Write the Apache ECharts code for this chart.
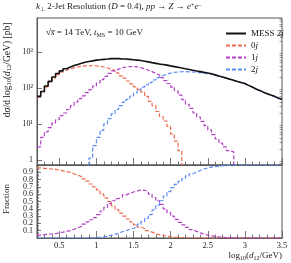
<!DOCTYPE html>
<html><head><meta charset="utf-8">
<script src="https://cdn.jsdelivr.net/npm/echarts@6/dist/echarts.min.js"></script>
<style>html,body{margin:0;padding:0;background:#fff}#c{width:291px;height:263px}</style>
</head><body><div id="c"></div>
<script>
// bin edges: 0.20 .. 3.50 in steps of 0.05 (66 bins)
const binStart = 0.2, binWidth = 0.05, nBins = 66;
const edges = Array.from({length: nBins + 1}, (_, i) => +(binStart + binWidth * i).toFixed(2));

// Top panel: dσ/d log10(d12/GeV) [pb]
const mess2j = [58,79,112,151,200,251,295,339,380,417,
  447,479,513,537,562,589,603,617,631,646,
  646,646,631,631,617,603,589,575,550,525,
  501,479,457,447,427,407,389,372,355,339,
  324,309,295,282,269,257,245,229,214,200,
  186,174,162,151,141,132,117,105,93,85,
  76,69,63,58,52,48];
const jet0 = [55,76,107,145,186,234,275,309,339,363,
  380,398,407,407,417,407,398,380,355,330,
  300,262,214,186,155,129,107,91,76,58,
  42,32,22,16,12,8.5,5.2,3.3,1.8,0.4,
  null,null,null,null,null,null,null,null,null,null,
  null,null,null,null,null,null,null,null,null,null,
  null,null,null,null,null,null];
const jet1 = [2.3,4.2,6.0,7.9,10.5,13,17,20,25,32,
  40,50,60,74,89,112,138,170,209,251,
  295,331,363,380,389,389,380,363,339,309,
  282,251,224,191,158,132,105,83,63,47,
  35,27,20,15.5,11.7,8.9,6.8,5.0,3.8,2.9,
  2.3,1.8,1.66,0.4,null,null,null,null,null,null,
  null,null,null,null,null,null];
const jet2 = [null,null,null,null,null,null,null,null,null,null,
  null,null,null,0.4,1.12,2.5,4.2,6.6,10,14,
  19,25,32,40,48,59,72,87,105,120,
  140,165,192,218,240,256,268,276,280,281,
  279,275,269,262,255,248,239,224,210,197,
  184,172,160,149,139,130,116,104,92,84,
  75,68,62,57,51,47];

// Bottom panel: fractions
const frac0 = [.96,.955,.95,.945,.94,.93,.92,.91,.90,.88,
  .86,.84,.81,.78,.74,.70,.66,.60,.55,.50,
  .44,.39,.34,.30,.26,.22,.18,.15,.13,.10,
  .08,.06,.045,.035,.025,.018,.012,.008,.005,.003,
  0,0,0,0,0,0,0,0,0,0,
  0,0,0,0,0,0,0,0,0,0,
  0,0,0,0,0,0];
const frac1 = [.04,.045,.05,.055,.06,.07,.08,.09,.10,.12,
  .14,.16,.19,.22,.25,.28,.32,.37,.42,.47,
  .51,.54,.56,.59,.61,.63,.645,.655,.655,.635,
  .60,.555,.51,.46,.40,.35,.30,.255,.215,.18,
  .145,.115,.09,.07,.055,.04,.03,.022,.015,.01,
  .006,.004,.002,0,0,0,0,0,0,0,
  0,0,0,0,0,0];
const frac2 = [0,0,0,0,0,0,0,0,0,0,
  0,0,0,0,.002,.005,.01,.015,.025,.035,
  .05,.065,.085,.10,.12,.13,.155,.19,.225,.27,
  .32,.385,.45,.51,.575,.635,.69,.735,.78,.815,
  .85,.88,.905,.925,.945,.96,.97,.978,.985,.99,
  .994,.996,.998,1,1,1,1,1,1,1,
  1,1,1,1,1,1];

const xMajor = [0.5,1,1.5,2,2.5,3,3.5];
const yMajor = [1,10,100,1000];
const yLabels = {1:'1',10:'10¹',100:'10²',1000:'10³'};

const xMinor = [];
for (let i = 3; i < 35; i++) { if (i % 5 !== 0) xMinor.push(+(i / 10).toFixed(1)); }
const yMinor = [0.8, 0.9];
[1,10,100,1000].forEach(d => { for (let k = 2; k <= 9; k++) if (d * k < 8700) yMinor.push(d * k); });

const names = ['MESS 2j','0j','1j','2j'];
const colors = ['#111111','#ef6a4c','#b341c6','#5b8cf7'];
const FONT = 'Liberation Serif';
const AX = '#555';

function steps(vals) {
  const d = vals.map((v, i) => [edges[i], v]);
  d.push([edges[vals.length], vals[vals.length - 1]]);
  return d;
}

const chart = echarts.init(document.getElementById('c'), null, {renderer: 'canvas'});

function xAx(gi, ticks, len, labels, line) {
  return {type:'value', gridIndex:gi, min:0.2, max:3.5, position:'bottom',
    axisLine:{show:line, lineStyle:{color:AX, width:1.2}},
    axisTick:{show:true, inside:true, length:len, customValues:ticks, lineStyle:{color:AX, width:0.8}},
    axisLabel:{show:labels, customValues:xMajor, margin:3, fontFamily:FONT, fontSize:8.5, color:'#222',
      formatter: v => String(v)},
    splitLine:{show:false}};
}

const option = {
  animation:false,
  grid:[
    {left:37, right:9, top:18, height:147, show:true, borderColor:AX, borderWidth:1},
    {left:37, right:9, top:165, height:73, show:true, borderColor:AX, borderWidth:1}
  ],
  xAxis:[
    xAx(0, xMajor, 7, false, true),
    xAx(0, xMinor, 3.5, false, false),
    xAx(1, xMajor, 7, true, true),
    xAx(1, xMinor, 3.5, false, false)
  ],
  yAxis:[
    {type:'log', gridIndex:0, min:0.72, max:8700,
      axisLine:{show:true, lineStyle:{color:AX, width:1}},
      axisTick:{show:true, inside:true, length:5, customValues:yMajor, lineStyle:{color:AX, width:0.8}},
      axisLabel:{show:true, customValues:yMajor, margin:4, fontFamily:FONT, fontSize:8, color:'#222',
        formatter: v => yLabels[Math.round(v)] || ''},
      splitLine:{show:false}},
    {type:'log', gridIndex:0, min:0.72, max:8700,
      axisLine:{show:false},
      axisTick:{show:true, inside:true, length:2.5, customValues:yMinor, lineStyle:{color:AX, width:0.6}},
      axisLabel:{show:false}, splitLine:{show:false}},
    {type:'value', gridIndex:1, min:0, max:1, interval:0.1,
      axisLine:{show:true, lineStyle:{color:AX, width:1}},
      axisTick:{show:true, inside:true, length:4, lineStyle:{color:AX, width:0.8}},
      minorTick:{show:true, splitNumber:5, length:2, lineStyle:{color:AX, width:0.6}},
      axisLabel:{show:true, showMaxLabel:false, margin:4, fontFamily:FONT, fontSize:8, color:'#222',
        formatter: v => (v >= 0.999 ? '' : String(+v.toFixed(1)))},
      splitLine:{show:false}}
  ],
  legend:{left:220, top:24, orient:'vertical', itemWidth:20, itemHeight:8, itemGap:3,
    data:names,
    itemStyle:{opacity:0},
    formatter: n => n.replace(/j$/, '{i|j}'),
    textStyle:{fontFamily:FONT, fontSize:9, color:'#111', lineHeight:9,
      rich:{i:{fontStyle:'italic', fontFamily:FONT, fontSize:9, color:'#111'}}}},
  series:[
    {name:names[1], type:'line', xAxisIndex:0, yAxisIndex:0, step:'end', symbol:'none',
      lineStyle:{color:colors[1], width:1.2, type:[4,2]}, itemStyle:{color:colors[1]}, data:steps(jet0)},
    {name:names[2], type:'line', xAxisIndex:0, yAxisIndex:0, step:'end', symbol:'none',
      lineStyle:{color:colors[2], width:1.2, type:[4,2]}, itemStyle:{color:colors[2]}, data:steps(jet1)},
    {name:names[3], type:'line', xAxisIndex:0, yAxisIndex:0, step:'end', symbol:'none',
      lineStyle:{color:colors[3], width:1.2, type:[4,2]}, itemStyle:{color:colors[3]}, data:steps(jet2)},
    {name:names[0], type:'line', xAxisIndex:0, yAxisIndex:0, step:'end', symbol:'none',
      lineStyle:{color:colors[0], width:1.6}, itemStyle:{color:colors[0]}, data:steps(mess2j)},
    {name:names[1], type:'line', xAxisIndex:2, yAxisIndex:2, step:'end', symbol:'none',
      lineStyle:{color:colors[1], width:1.2, type:[4,2]}, itemStyle:{color:colors[1]}, data:steps(frac0)},
    {name:names[2], type:'line', xAxisIndex:2, yAxisIndex:2, step:'end', symbol:'none',
      lineStyle:{color:colors[2], width:1.2, type:[4,2]}, itemStyle:{color:colors[2]}, data:steps(frac1)},
    {name:names[3], type:'line', xAxisIndex:2, yAxisIndex:2, step:'end', symbol:'none',
      lineStyle:{color:colors[3], width:1.2, type:[4,2]}, itemStyle:{color:colors[3]}, data:steps(frac2)}
  ],
  graphic:[
    {type:'text', x:36, y:7, style:{
      text:'{i|k}{s|⊥} 2-Jet Resolution ({i|D} = 0.4), {i|pp} → {i|Z} → {i|e}{p|+}{i|e}{p|−}',
      fontFamily:FONT, fontSize:9, fill:'#222', verticalAlign:'middle',
      rich:{i:{fontStyle:'italic', fontFamily:FONT, fontSize:9, fill:'#222'},
        s:{fontFamily:FONT, fontSize:6, fill:'#222', verticalAlign:'bottom', padding:[4,0,0,0]},
        p:{fontFamily:FONT, fontSize:6, fill:'#222', verticalAlign:'top', padding:[0,0,4,0]}}}},
    {type:'text', x:46, y:33, style:{
      text:'√{o|s\u0305} = 14 TeV, {i|t}{s|MS} = 10 GeV',
      fontFamily:FONT, fontSize:9, fill:'#222', verticalAlign:'middle',
      rich:{i:{fontStyle:'italic', fontFamily:FONT, fontSize:9, fill:'#222'},
        o:{fontStyle:'italic', fontFamily:FONT, fontSize:9, fill:'#222'},
        s:{fontFamily:FONT, fontSize:6, fill:'#222', verticalAlign:'bottom', padding:[4,0,0,0]}}}},
    {type:'text', x:7, y:70, rotation:Math.PI/2, style:{
      text:'dσ/d log{s|10}({i|d}{s|12}/GeV) [pb]',
      fontFamily:FONT, fontSize:9.5, fill:'#222', align:'center', verticalAlign:'middle',
      rich:{i:{fontStyle:'italic', fontFamily:FONT, fontSize:9.5, fill:'#222'},
        s:{fontFamily:FONT, fontSize:6.5, fill:'#222', verticalAlign:'bottom', padding:[4,0,0,0]}}}},
    {type:'text', x:7, y:199, rotation:Math.PI/2, style:{
      text:'Fraction', fontFamily:FONT, fontSize:9, fill:'#222', align:'center', verticalAlign:'middle'}},
    {type:'text', x:282, y:256, style:{
      text:'log{s|10}({i|d}{s|12}/GeV)',
      fontFamily:FONT, fontSize:9, fill:'#222', align:'right', verticalAlign:'middle',
      rich:{i:{fontStyle:'italic', fontFamily:FONT, fontSize:9, fill:'#222'},
        s:{fontFamily:FONT, fontSize:6, fill:'#222', verticalAlign:'bottom', padding:[4,0,0,0]}}}}
  ]
};
chart.setOption(option);
</script></body></html>
